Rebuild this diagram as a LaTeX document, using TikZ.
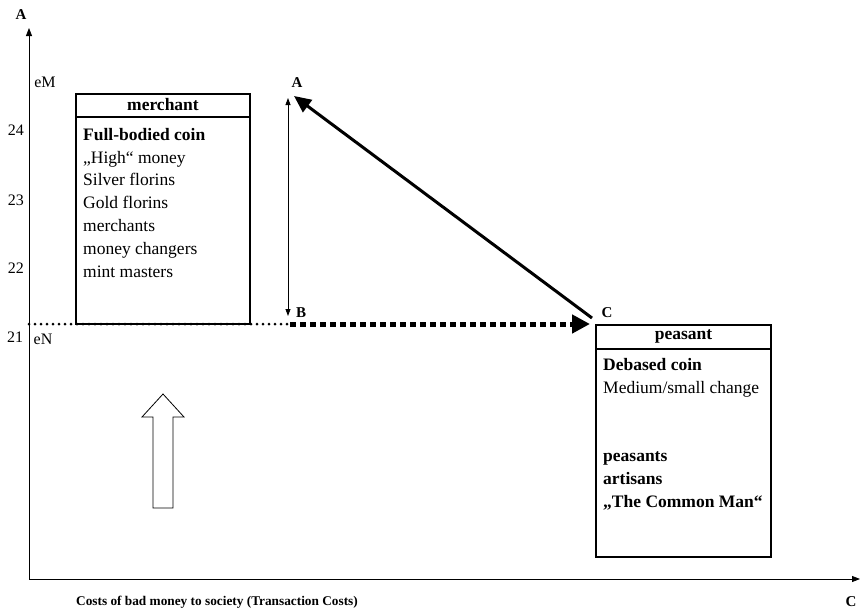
\documentclass[tikz,border=0pt]{standalone}
\usepackage{fontspec}
\setmainfont{Liberation Serif}
\usetikzlibrary{arrows.meta,positioning}
\tikzset{
  axisarrow/.style={-{Triangle[length=8pt,width=6pt]}, line width=0.8pt},
  boxframe/.style={draw, line width=2pt, inner sep=0pt, anchor=north west},
  boxline/.style={line width=2pt},
  headlabel/.style={font=\fontsize{17.5}{20}\selectfont\bfseries, inner sep=0pt},
  boxtext/.style={align=left, inner sep=0pt, anchor=north west, font=\fontsize{17.5}{22.8}\selectfont},
  ptlabel/.style={font=\fontsize{15}{17}\selectfont\bfseries, inner sep=0pt},
  xlabel/.style={font=\fontsize{13.3}{16}\selectfont\bfseries, inner sep=0pt},
  ticklabel/.style={font=\fontsize{16}{18}\selectfont, inner sep=0pt},
  bigarrow/.style={-{Triangle[length=17pt,width=15pt]}, line width=3pt},
  spanarrow/.style={{Triangle[length=7pt,width=5pt]}-{Triangle[length=7pt,width=5pt]}, line width=0.8pt},
  shiftarrow/.style={-{Triangle[length=18pt,width=18pt]}, line width=5pt, dash pattern=on 6pt off 4pt},
  dotline/.style={line width=3pt, line cap=round, dash pattern=on 0pt off 6pt}
}

\begin{document}
\begin{tikzpicture}[x=1pt, y=-1pt]
    \useasboundingbox (0,0) rectangle (863,613);
    % axes
    \coordinate (origin) at (29,579);
    \coordinate (yend) at (29,28);
    \coordinate (xend) at (860,579);
    \draw[axisarrow] (origin) -- (yend);
    \draw[axisarrow] (origin) -- (xend);
    \node[ptlabel] (ytitle) at (21,15) {A};
    \node[ptlabel] (xend label) at (851,602) {C};
    \node[xlabel] (xtitle) at (217,602) {Costs of bad money to society (Transaction Costs)};
    \node[ticklabel] (eM) at (45,82) {eM};
    \node[ticklabel] (eN) at (43,339) {eN};
    \node[ticklabel] (t24) at (16,130) {24};
    \node[ticklabel] (t23) at (16,200) {23};
    \node[ticklabel] (t22) at (16,268) {22};
    \node[ticklabel] (t21) at (15,337) {21};
    % merchant box
    \node[boxframe, minimum width=174pt, minimum height=230pt] (merchant) at (75,93) {};
    \draw[boxline] ([yshift=-24pt]merchant.north west) -- ([yshift=-24pt]merchant.north east);
    \node[headlabel] (mtitle) at ([yshift=-12pt]merchant.north) {merchant};
    \node[boxtext] (mtext) at (83,128) {\textbf{Full-bodied coin}\\„High“ money\\Silver florins\\Gold florins\\merchants\\money changers\\mint masters};
    % peasant box
    \node[boxframe, minimum width=175pt, minimum height=232pt] (peasant) at (595,324) {};
    \draw[boxline] ([yshift=-25pt]peasant.north west) -- ([yshift=-25pt]peasant.north east);
    \node[headlabel] (ptitle) at ([yshift=-12.5pt]peasant.north) {peasant};
    \node[boxtext] (ptext) at (603,358) {\textbf{Debased coin}\\Medium/small change\\[45.6pt]\textbf{peasants}\\\textbf{artisans}\\\textbf{„The Common Man“}};
    % points A, B, C
    \coordinate (nlevel) at (29,324);
    \coordinate (ptA) at (294,96);
    \coordinate (ptB) at (290,324);
    \coordinate (ptC) at (592,318);
    \coordinate (ptCn) at (590,324);
    \coordinate (spanTop) at (288,98);
    \coordinate (spanBot) at (288,316);
    \node[ptlabel] (labA) at (297,83) {A};
    \node[ptlabel] (labB) at (301,313) {B};
    \node[ptlabel] (labC) at (607,313) {C};
    \draw[dotline] (nlevel) -- (spanBot |- nlevel);
    \draw[shiftarrow] (ptB) -- (ptCn);
    \draw[bigarrow] (ptC) -- (ptA);
    \draw[spanarrow] (spanBot) -- (spanTop);
    % hollow arrow
    \draw[line width=0.8pt, fill=white] (153,508) -- (153,417) -- (142,417) -- (163,394) -- (184,417) -- (173,417) -- (173,508) -- cycle;
\end{tikzpicture}
\end{document}
